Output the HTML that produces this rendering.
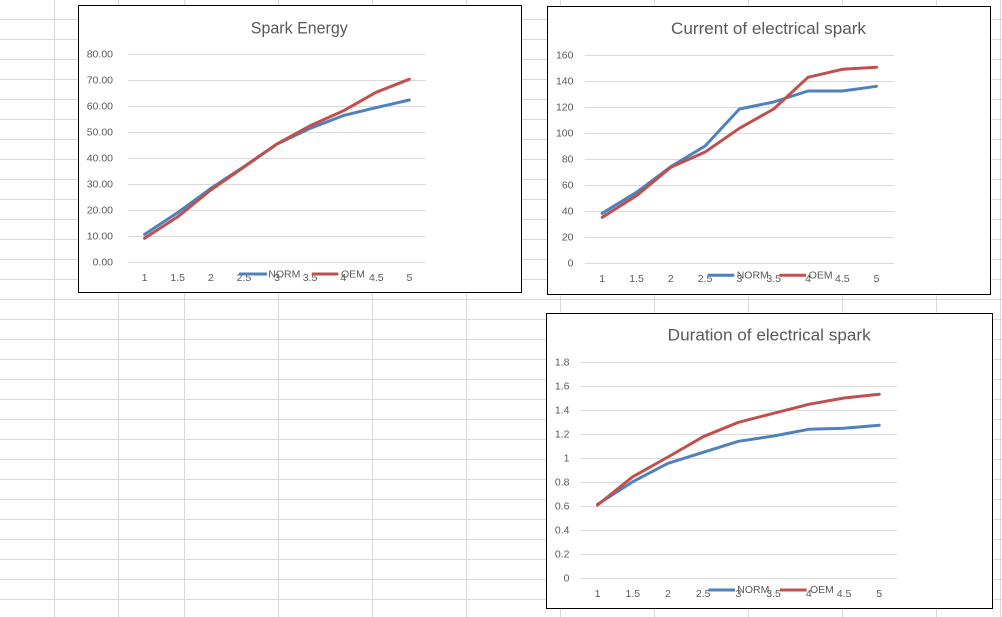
<!DOCTYPE html>
<html>
<head>
<meta charset="utf-8">
<style>
html,body{margin:0;padding:0;background:#fff;}
svg{display:block;}
text{font-family:"Liberation Sans",Arial,sans-serif;}
</style>
</head>
<body>
<svg width="1002" height="617" viewBox="0 0 1002 617" xmlns="http://www.w3.org/2000/svg">
<rect width="1002" height="617" fill="#fff"/>
<!-- spreadsheet grid -->
<g stroke="#dadada" stroke-width="1">
<line x1="0" y1="19.5" x2="1002" y2="19.5"/><line x1="0" y1="39.5" x2="1002" y2="39.5"/>
<line x1="0" y1="59.5" x2="1002" y2="59.5"/><line x1="0" y1="79.5" x2="1002" y2="79.5"/>
<line x1="0" y1="99.5" x2="1002" y2="99.5"/><line x1="0" y1="119.5" x2="1002" y2="119.5"/>
<line x1="0" y1="139.5" x2="1002" y2="139.5"/><line x1="0" y1="159.5" x2="1002" y2="159.5"/>
<line x1="0" y1="179.5" x2="1002" y2="179.5"/><line x1="0" y1="199.5" x2="1002" y2="199.5"/>
<line x1="0" y1="219.5" x2="1002" y2="219.5"/><line x1="0" y1="239.5" x2="1002" y2="239.5"/>
<line x1="0" y1="259.5" x2="1002" y2="259.5"/><line x1="0" y1="279.5" x2="1002" y2="279.5"/>
<line x1="0" y1="299.5" x2="1002" y2="299.5"/><line x1="0" y1="319.5" x2="1002" y2="319.5"/>
<line x1="0" y1="339.5" x2="1002" y2="339.5"/><line x1="0" y1="359.5" x2="1002" y2="359.5"/>
<line x1="0" y1="379.5" x2="1002" y2="379.5"/><line x1="0" y1="399.5" x2="1002" y2="399.5"/>
<line x1="0" y1="419.5" x2="1002" y2="419.5"/><line x1="0" y1="439.5" x2="1002" y2="439.5"/>
<line x1="0" y1="459.5" x2="1002" y2="459.5"/><line x1="0" y1="479.5" x2="1002" y2="479.5"/>
<line x1="0" y1="499.5" x2="1002" y2="499.5"/><line x1="0" y1="519.5" x2="1002" y2="519.5"/>
<line x1="0" y1="539.5" x2="1002" y2="539.5"/><line x1="0" y1="559.5" x2="1002" y2="559.5"/>
<line x1="0" y1="579.5" x2="1002" y2="579.5"/><line x1="0" y1="599.5" x2="1002" y2="599.5"/>
<line x1="54.5" y1="0" x2="54.5" y2="617"/><line x1="118.5" y1="0" x2="118.5" y2="617"/>
<line x1="184.5" y1="0" x2="184.5" y2="617"/><line x1="278.5" y1="0" x2="278.5" y2="617"/>
<line x1="372.5" y1="0" x2="372.5" y2="617"/><line x1="466.5" y1="0" x2="466.5" y2="617"/>
<line x1="560.5" y1="0" x2="560.5" y2="617"/><line x1="654.5" y1="0" x2="654.5" y2="617"/>
<line x1="748.5" y1="0" x2="748.5" y2="617"/><line x1="842.5" y1="0" x2="842.5" y2="617"/>
<line x1="936.5" y1="0" x2="936.5" y2="617"/><line x1="1000.5" y1="0" x2="1000.5" y2="617"/>
</g>

<!-- ===== Chart 1 ===== -->
<rect x="78.5" y="5.5" width="443" height="287" fill="#fff" stroke="#000" stroke-width="1"/>
<text x="299.3" y="33.3" font-size="17" fill="#595959" text-anchor="middle" textLength="97" lengthAdjust="spacingAndGlyphs">Spark Energy</text>
<g stroke="#d9d9d9" stroke-width="1">
<line x1="128" y1="54.5" x2="426" y2="54.5"/><line x1="128" y1="80.5" x2="426" y2="80.5"/>
<line x1="128" y1="106.5" x2="426" y2="106.5"/><line x1="128" y1="132.5" x2="426" y2="132.5"/>
<line x1="128" y1="158.5" x2="426" y2="158.5"/><line x1="128" y1="184.5" x2="426" y2="184.5"/>
<line x1="128" y1="210.5" x2="426" y2="210.5"/><line x1="128" y1="236.5" x2="426" y2="236.5"/>
<line x1="128" y1="262.5" x2="426" y2="262.5"/>
</g>
<g font-size="10.5" fill="#595959" text-anchor="end">
<text x="113" y="57.7">80.00</text><text x="113" y="83.7">70.00</text>
<text x="113" y="109.7">60.00</text><text x="113" y="135.7">50.00</text>
<text x="113" y="161.7">40.00</text><text x="113" y="187.7">30.00</text>
<text x="113" y="213.7">20.00</text><text x="113" y="239.7">10.00</text>
<text x="113" y="265.7">0.00</text>
</g>
<g font-size="10.5" fill="#595959" text-anchor="middle">
<text x="144.6" y="281">1</text><text x="177.7" y="281">1.5</text>
<text x="210.8" y="281">2</text><text x="243.9" y="281">2.5</text>
<text x="277" y="281">3</text><text x="310.1" y="281">3.5</text>
<text x="343.2" y="281">4</text><text x="376.3" y="281">4.5</text>
<text x="409.4" y="281">5</text>
</g>
<polyline fill="none" stroke="#4f81bd" stroke-width="3" stroke-linecap="round" stroke-linejoin="round"
 points="144.6,234.4 177.7,212.6 210.8,188.4 243.9,166.6 277,144 310.1,128.4 343.2,115.6 376.3,107.6 409.4,100"/>
<polyline fill="none" stroke="#c0504d" stroke-width="3" stroke-linecap="round" stroke-linejoin="round"
 points="144.6,238.3 177.7,216.8 210.8,190 243.9,167.1 277,144 310.1,125.8 343.2,110.9 376.3,92.2 409.4,79.2"/>
<line x1="239" y1="274" x2="267" y2="274" stroke="#4f81bd" stroke-width="3"/>
<line x1="311.7" y1="274" x2="338.3" y2="274" stroke="#c0504d" stroke-width="3"/>
<g font-size="10.5" fill="#595959">
<text x="268.3" y="277.3">NORM</text><text x="341" y="277.3">OEM</text>
</g>

<!-- ===== Chart 2 ===== -->
<rect x="547.5" y="6.5" width="443" height="288" fill="#fff" stroke="#000" stroke-width="1"/>
<text x="768.5" y="34" font-size="17" fill="#595959" text-anchor="middle" textLength="195" lengthAdjust="spacingAndGlyphs">Current of electrical spark</text>
<g stroke="#d9d9d9" stroke-width="1">
<line x1="585" y1="55.5" x2="894" y2="55.5"/><line x1="585" y1="81.5" x2="894" y2="81.5"/>
<line x1="585" y1="107.5" x2="894" y2="107.5"/><line x1="585" y1="133.5" x2="894" y2="133.5"/>
<line x1="585" y1="159.5" x2="894" y2="159.5"/><line x1="585" y1="185.5" x2="894" y2="185.5"/>
<line x1="585" y1="211.5" x2="894" y2="211.5"/><line x1="585" y1="237.5" x2="894" y2="237.5"/>
<line x1="585" y1="263.5" x2="894" y2="263.5"/>
</g>
<g font-size="10.5" fill="#595959" text-anchor="end">
<text x="573.5" y="58.5">160</text><text x="573.5" y="84.5">140</text>
<text x="573.5" y="110.5">120</text><text x="573.5" y="136.5">100</text>
<text x="573.5" y="162.5">80</text><text x="573.5" y="188.5">60</text>
<text x="573.5" y="214.5">40</text><text x="573.5" y="240.5">20</text>
<text x="573.5" y="266.5">0</text>
</g>
<g font-size="10.5" fill="#595959" text-anchor="middle">
<text x="602.2" y="282">1</text><text x="636.5" y="282">1.5</text>
<text x="670.8" y="282">2</text><text x="705.1" y="282">2.5</text>
<text x="739.4" y="282">3</text><text x="773.7" y="282">3.5</text>
<text x="808" y="282">4</text><text x="842.3" y="282">4.5</text>
<text x="876.6" y="282">5</text>
</g>
<polyline fill="none" stroke="#4f81bd" stroke-width="3" stroke-linecap="round" stroke-linejoin="round"
 points="602.2,213.3 636.5,192.3 670.8,166.7 705.1,146 739.4,109 773.7,102 808,91 842.3,91 876.6,86.3"/>
<polyline fill="none" stroke="#c0504d" stroke-width="3" stroke-linecap="round" stroke-linejoin="round"
 points="602.2,217.3 636.5,195.7 670.8,167.3 705.1,152 739.4,128.3 773.7,109 808,77.3 842.3,69.3 876.6,67.3"/>
<line x1="707.7" y1="275.3" x2="734.3" y2="275.3" stroke="#4f81bd" stroke-width="3"/>
<line x1="779.3" y1="275.3" x2="806" y2="275.3" stroke="#c0504d" stroke-width="3"/>
<g font-size="10.5" fill="#595959">
<text x="736.7" y="278.3">NORM</text><text x="808.7" y="278.3">OEM</text>
</g>

<!-- ===== Chart 3 ===== -->
<rect x="546.5" y="313.5" width="446" height="295" fill="#fff" stroke="#000" stroke-width="1"/>
<text x="769.2" y="340.7" font-size="17" fill="#595959" text-anchor="middle" textLength="203" lengthAdjust="spacingAndGlyphs">Duration of electrical spark</text>
<g stroke="#d9d9d9" stroke-width="1">
<line x1="580" y1="362.5" x2="897" y2="362.5"/><line x1="580" y1="386.5" x2="897" y2="386.5"/>
<line x1="580" y1="410.5" x2="897" y2="410.5"/><line x1="580" y1="434.5" x2="897" y2="434.5"/>
<line x1="580" y1="458.5" x2="897" y2="458.5"/><line x1="580" y1="482.5" x2="897" y2="482.5"/>
<line x1="580" y1="506.5" x2="897" y2="506.5"/><line x1="580" y1="530.5" x2="897" y2="530.5"/>
<line x1="580" y1="554.5" x2="897" y2="554.5"/><line x1="580" y1="578.5" x2="897" y2="578.5"/>
</g>
<g font-size="10.5" fill="#595959" text-anchor="end">
<text x="569.5" y="365.7">1.8</text><text x="569.5" y="389.7">1.6</text>
<text x="569.5" y="413.7">1.4</text><text x="569.5" y="437.7">1.2</text>
<text x="569.5" y="461.7">1</text><text x="569.5" y="485.7">0.8</text>
<text x="569.5" y="509.7">0.6</text><text x="569.5" y="533.7">0.4</text>
<text x="569.5" y="557.7">0.2</text><text x="569.5" y="581.7">0</text>
</g>
<g font-size="10.5" fill="#595959" text-anchor="middle">
<text x="597.6" y="597">1</text><text x="632.8" y="597">1.5</text>
<text x="668" y="597">2</text><text x="703.2" y="597">2.5</text>
<text x="738.4" y="597">3</text><text x="773.6" y="597">3.5</text>
<text x="808.8" y="597">4</text><text x="844" y="597">4.5</text>
<text x="879.2" y="597">5</text>
</g>
<polyline fill="none" stroke="#4f81bd" stroke-width="3" stroke-linecap="round" stroke-linejoin="round"
 points="597.6,504.3 632.8,481.7 668,463.3 703.2,452.3 738.4,441.3 773.6,436 808.8,429.3 844,428.3 879.2,425.3"/>
<polyline fill="none" stroke="#c0504d" stroke-width="3" stroke-linecap="round" stroke-linejoin="round"
 points="597.6,505 632.8,476.7 668,457 703.2,436.7 738.4,422.3 773.6,413.3 808.8,404.3 844,398 879.2,394.3"/>
<line x1="708.3" y1="590" x2="735" y2="590" stroke="#4f81bd" stroke-width="3"/>
<line x1="780" y1="590" x2="806.7" y2="590" stroke="#c0504d" stroke-width="3"/>
<g font-size="10.5" fill="#595959">
<text x="737.3" y="593">NORM</text><text x="810" y="593">OEM</text>
</g>
</svg>
</body>
</html>
